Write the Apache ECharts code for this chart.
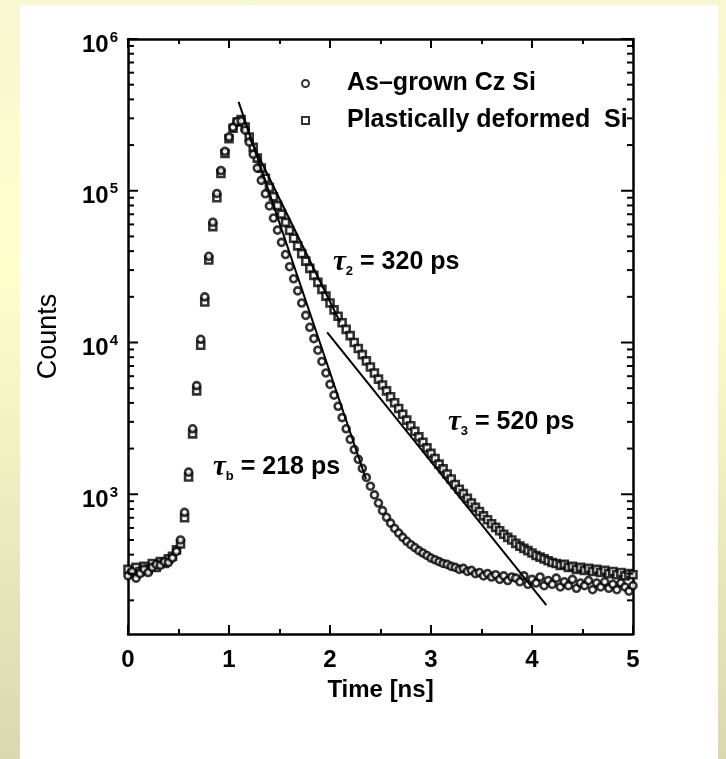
<!DOCTYPE html>
<html><head><meta charset="utf-8">
<script src="https://cdn.jsdelivr.net/npm/echarts@6/dist/echarts.min.js"></script>
<style>
html,body{margin:0;padding:0;}
body{background:linear-gradient(180deg,#F7F7D2 0%,#FFFFCC 35%,#D9D8B0 100%);}
#c{width:726px;height:759px;}
</style>
</head><body><div id="c"></div>
<script>
// time axis samples [ns]
const times = [0,0.04,0.08,0.12,0.16,0.2,0.24,0.28,0.32,0.36,0.4,0.44,0.48,0.52,0.56,0.6,0.64,0.68,0.72,0.76,0.8,0.84,0.88,0.92,0.96,
1,1.04,1.08,1.12,1.16,1.2,1.24,1.28,1.32,1.36,1.4,1.44,1.48,1.52,1.56,1.6,1.64,1.68,1.72,1.76,1.8,1.84,1.88,1.92,1.96,
2,2.04,2.08,2.12,2.16,2.2,2.24,2.28,2.32,2.36,2.4,2.44,2.48,2.52,2.56,2.6,2.64,2.68,2.72,2.76,2.8,2.84,2.88,2.92,2.96,
3,3.04,3.08,3.12,3.16,3.2,3.24,3.28,3.32,3.36,3.4,3.44,3.48,3.52,3.56,3.6,3.64,3.68,3.72,3.76,3.8,3.84,3.88,3.92,3.96,
4,4.04,4.08,4.12,4.16,4.2,4.24,4.28,4.32,4.36,4.4,4.44,4.48,4.52,4.56,4.6,4.64,4.68,4.72,4.76,4.8,4.84,4.88,4.92,4.96,5];

// As-grown Cz Si (circles)
const asGrown = [290,310,280,300,320,305,330,345,340,360,355,380,420,
500,760,1400,2700,5200,10500,20000,37000,62000,96000,136000,182000,226000,262000,286000,
288000,251000,209000,174000,141000,117000,95500,79400,66100,55000,45700,38000,31600,26300,21900,18200,15100,
12600,10600,8900,7500,6300,5300,4500,3800,3200,2700,2300,1970,1700,1480,1290,1130,990,875,780,705,645,595,555,520,490,465,445,425,410,395,
380,370,360,350,345,335,330,320,325,310,315,300,305,290,300,285,295,275,290,270,285,
280,265,290,255,275,260,285,250,270,255,280,245,265,250,275,240,260,250,270,235,260,245,265,240,255,235,260,245,230,250];

// Plastically deformed Si (squares)
const deformed = [320,300,330,310,335,320,350,330,360,350,375,390,430,
470,700,1300,2500,4800,9600,18500,35000,58000,90000,130000,176000,220000,258000,284000,
295000,263000,226000,193000,164000,141000,121000,105000,91200,79800,70100,61900,54800,48600,43300,38500,34400,
30800,27700,24900,22400,20200,18200,16400,14900,13500,12200,11100,10000,9140,8320,7570,6900,6300,5740,5250,4800,4390,4010,3670,3370,3080,2830,2600,2390,2200,2020,
1860,1720,1580,1470,1360,1260,1160,1080,1010,940,875,820,770,720,680,640,605,575,545,520,500,
475,455,440,425,410,395,385,375,365,355,350,340,345,330,335,320,330,315,325,310,320,305,315,300,310,295,305,290,300,295];

// fitted exponential lines [t, counts]
const fitTb = [[1.095, 385000], [2.357, 1256]];
const fitT2 = [[1.2, 226000], [2.1, 13600]];
const fitT3 = [[1.972, 11650], [4.142, 186]];

const seriesNames = ['As\u2013grown Cz Si', 'Plastically deformed  Si'];
const xTickLabels = ['0','1','2','3','4','5'];
const yDecades = [1000, 10000, 100000, 1000000];
const minorMult = [2,3,4,5,6,7,8,9];
const minorDecades = [100,1000,10000,100000];

const FONT = '"Liberation Sans", Arial, Helvetica, sans-serif';
// y tick marks: [x, value, isMajor]
const yTicks = yDecades.map(v => [0, v, 1]);
minorDecades.forEach(d => minorMult.forEach(m => yTicks.push([0, m * d, 0])));

const chart = echarts.init(document.getElementById('c'), null, {renderer: 'canvas'});

const axisLineStyle = {color: '#000', width: 2.5};
const tickStyle = {color: '#000', width: 2};

function yFmt(v) {
  const l = Math.log10(v);
  const e = Math.round(l);
  if (Math.abs(l - e) > 1e-6 || yDecades.indexOf(Math.pow(10, e)) < 0) return '';
  return '{b|10}{sup|' + e + '}';
}

const tauRich = {
  t: {fontFamily: '"Liberation Serif", serif', fontStyle: 'italic', fontWeight: 'bold', fontSize: 29, lineHeight: 30},
  s: {fontFamily: FONT, fontWeight: 'bold', fontSize: 13, lineHeight: 14, verticalAlign: 'bottom'},
  n: {fontFamily: FONT, fontWeight: 'bold', fontSize: 25, lineHeight: 30}
};

const markerStyle = {color: '#fff', borderColor: '#000', borderWidth: 2.6};

const option = {
  animation: false,
  backgroundColor: 'transparent',
  textStyle: {fontFamily: FONT},
  graphic: [
    {type: 'rect', z: -10, silent: true, shape: {x: 20, y: 5, width: 698, height: 760}, style: {fill: '#fff'}},
    {type: 'text', left: 333, top: 248, silent: true, style: {text: '{t|\u03C4}{s|2}{n| = 320 ps}', fill: '#000', rich: tauRich}},
    {type: 'text', left: 448, top: 408, silent: true, style: {text: '{t|\u03C4}{s|3}{n| = 520 ps}', fill: '#000', rich: tauRich}},
    {type: 'text', left: 213, top: 453, silent: true, style: {text: '{t|\u03C4}{s|b}{n| = 218 ps}', fill: '#000', rich: tauRich}}
  ],
  legend: {
    data: seriesNames,
    orient: 'vertical',
    left: 296, top: 66,
    itemWidth: 7, itemHeight: 7, itemGap: 12,
    selectedMode: false,
    formatter: name => '{a|' + name + '}',
    textStyle: {color: '#000', rich: {a: {fontFamily: FONT, fontSize: 25, fontWeight: 'bold', lineHeight: 28, padding: [0, 0, 0, 33], color: '#000'}}}
  },
  grid: {left: 128, right: 93, top: 39, bottom: 125},
  xAxis: [
    {type: 'value', min: 0, max: 5, interval: 1, position: 'bottom',
     axisLine: {show: true, onZero: false, lineStyle: axisLineStyle},
     axisTick: {show: true, inside: true, length: 9, lineStyle: tickStyle},
     minorTick: {show: true, splitNumber: 2, length: 5, lineStyle: tickStyle},
     splitLine: {show: false}, minorSplitLine: {show: false},
     axisLabel: {margin: 14, color: '#000', fontSize: 24, fontWeight: 'bold', fontFamily: FONT,
       formatter: v => xTickLabels[Math.round(v)] || ''},
     name: 'Time [ns]', nameLocation: 'middle', nameGap: 44,
     nameTextStyle: {color: '#000', fontSize: 24, fontWeight: 'bold', fontFamily: FONT}},
    {type: 'value', min: 0, max: 5, interval: 1, position: 'top',
     axisLine: {show: true, onZero: false, lineStyle: axisLineStyle},
     axisTick: {show: true, inside: true, length: 9, lineStyle: tickStyle},
     minorTick: {show: true, splitNumber: 2, length: 5, lineStyle: tickStyle},
     splitLine: {show: false}, minorSplitLine: {show: false},
     axisLabel: {show: false}}
  ],
  yAxis: [
    {type: 'log', logBase: 10, min: 120, max: 1000000, position: 'left',
     axisLine: {show: true, onZero: false, lineStyle: axisLineStyle},
     axisTick: {show: false},
     splitLine: {show: false},
     axisLabel: {margin: 10, color: '#000', formatter: yFmt,
       rich: {
         b: {fontSize: 24, fontWeight: 'bold', fontFamily: FONT, lineHeight: 24, padding: [12, 0, 0, 0], color: '#000'},
         sup: {fontSize: 15, fontWeight: 'bold', fontFamily: FONT, lineHeight: 16, padding: [3, 0, 0, 1], verticalAlign: 'top', color: '#000'}
       }},
     name: 'Counts', nameLocation: 'middle', nameGap: 66,
     nameTextStyle: {color: '#000', fontSize: 27, fontFamily: FONT}},
    {type: 'log', logBase: 10, min: 120, max: 1000000, position: 'right',
     axisLine: {show: true, onZero: false, lineStyle: axisLineStyle},
     axisTick: {show: false},
     splitLine: {show: false},
     axisLabel: {show: false}}
  ],
  series: [
    {name: seriesNames[1], type: 'scatter', symbol: 'rect', symbolSize: 7,
     data: times.map((t, i) => [t, deformed[i]]),
     itemStyle: markerStyle, z: 3},
    {name: seriesNames[0], type: 'scatter', symbol: 'circle', symbolSize: 7,
     data: times.map((t, i) => [t, asGrown[i]]),
     itemStyle: markerStyle, z: 4},
    {name: 'fit_tb', type: 'line', data: fitTb, symbol: 'none', silent: true,
     lineStyle: {color: '#000', width: 2}, z: 5},
    {name: 'fit_t2', type: 'line', data: fitT2, symbol: 'none', silent: true,
     lineStyle: {color: '#000', width: 2}, z: 5},
    {name: 'fit_t3', type: 'line', data: fitT3, symbol: 'none', silent: true,
     lineStyle: {color: '#000', width: 2}, z: 5},
    {name: 'yTicks', type: 'custom', silent: true, data: yTicks, z: 6,
     renderItem: function (params, api) {
       const p = api.coord([0, api.value(1)]);
       const cs = params.coordSys;
       const major = api.value(2) === 1;
       const lenL = major ? 10 : 6, lenR = major ? 12 : 6;
       return {type: 'group', children: [
         {type: 'line', shape: {x1: cs.x, y1: p[1], x2: cs.x + lenL, y2: p[1]}, style: {stroke: '#000', lineWidth: 2}},
         {type: 'line', shape: {x1: cs.x + cs.width, y1: p[1], x2: cs.x + cs.width - lenR, y2: p[1]}, style: {stroke: '#000', lineWidth: 2}}
       ]};
     }}
  ]
};
chart.setOption(option);
</script>
</body></html>
